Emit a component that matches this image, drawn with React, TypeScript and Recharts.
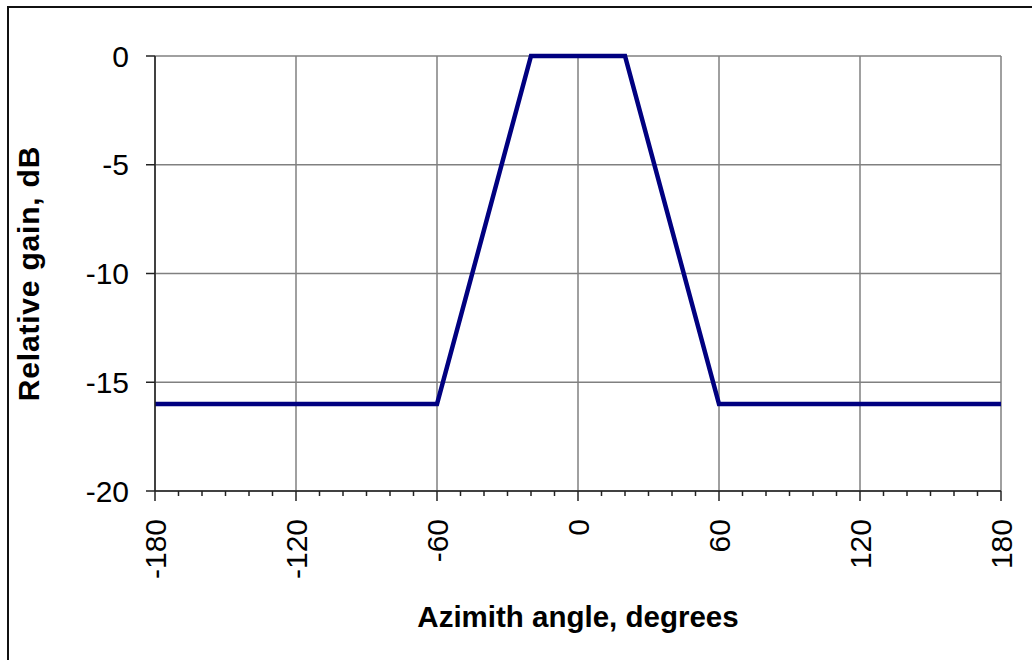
import React from "react";
import {
  LineChart,
  Line,
  XAxis,
  YAxis,
  CartesianGrid,
} from "recharts";

// azimuth angle (deg) vs relative gain (dB)
const angles = [-180, -60, -20, 20, 60, 180];
const gains = [-16, -16, 0, 0, -16, -16];

const xTicks = [
  -180, -170, -160, -150, -140, -130, -120, -110, -100, -90, -80, -70, -60, -50, -40, -30, -20, -10,
  0, 10, 20, 30, 40, 50, 60, 70, 80, 90, 100, 110, 120, 130, 140, 150, 160, 170, 180,
];
const xMajor = [-180, -120, -60, 0, 60, 120, 180];
const yTicks = [-20, -15, -10, -5, 0];

const data = angles.map((a, i) => ({ angle: a, gain: gains[i] }));

const FONT = "'Liberation Sans', Arial, sans-serif";

function AngleTick(props: any) {
  const { x, y, payload } = props;
  const major = xMajor.includes(payload.value);
  return (
    <g>
      <line x1={x} y1={y} x2={x} y2={y + (major ? 10 : 5)} stroke="#222" strokeWidth={1.5} />
      {major && (
        <text
          x={x}
          y={y + 28}
          transform={`rotate(-90 ${x} ${y + 28})`}
          textAnchor="end"
          dominantBaseline="central"
          fontFamily={FONT}
          fontSize={30}
          fill="#000"
        >
          {payload.value}
        </text>
      )}
    </g>
  );
}

function XTitle(props: any) {
  const vb = props.viewBox;
  return (
    <text
      x={vb.x + vb.width / 2}
      y={vb.y + 136}
      textAnchor="middle"
      fontFamily={FONT}
      fontWeight="bold"
      fontSize={29.5}
      fill="#000"
    >
      Azimith angle, degrees
    </text>
  );
}

function YTitle(props: any) {
  const vb = props.viewBox;
  const cy = vb.y + vb.height / 2;
  return (
    <text
      x={28}
      y={cy}
      transform={`rotate(-90 28 ${cy})`}
      textAnchor="middle"
      dominantBaseline="central"
      fontFamily={FONT}
      fontWeight="bold"
      fontSize={30}
      letterSpacing={0.8}
      fill="#000"
    >
      Relative gain, dB
    </text>
  );
}

export default function App() {
  return (
    <div
      style={{
        position: "absolute",
        left: 0,
        top: 0,
        width: 1032,
        height: 660,
        overflow: "hidden",
        background: "#fff",
      }}
    >
      <div
        style={{
          position: "absolute",
          left: 7,
          top: 6,
          width: 2000,
          height: 2000,
          borderTop: "2px solid #111",
          borderLeft: "2px solid #111",
        }}
      />
      <div style={{ position: "absolute", left: 0, top: 0 }}>
        <LineChart
          width={1032}
          height={660}
          data={data}
          margin={{ top: 56, right: 31, bottom: 0, left: 0 }}
        >
          <CartesianGrid
            stroke="#808080"
            strokeWidth={1.5}
            verticalValues={xMajor}
            horizontalValues={yTicks}
          />
          <XAxis
            dataKey="angle"
            type="number"
            domain={[-180, 180]}
            ticks={xTicks}
            interval={0}
            height={169}
            tickSize={0}
            tickMargin={0}
            tickLine={false}
            axisLine={{ stroke: "#222", strokeWidth: 1.5 }}
            tick={<AngleTick />}
            label={<XTitle />}
          />
          <YAxis
            type="number"
            domain={[-20, 0]}
            ticks={yTicks}
            interval={0}
            width={155}
            tickSize={9}
            tickMargin={17}
            tickLine={{ stroke: "#222", strokeWidth: 1.5 }}
            axisLine={{ stroke: "#222", strokeWidth: 1.5 }}
            tick={{ fontFamily: FONT, fontSize: 30, fill: "#000" }}
            label={<YTitle />}
          />
          <Line
            type="linear"
            dataKey="gain"
            stroke="#000080"
            strokeWidth={4.5}
            dot={false}
            isAnimationActive={false}
          />
        </LineChart>
      </div>
    </div>
  );
}
